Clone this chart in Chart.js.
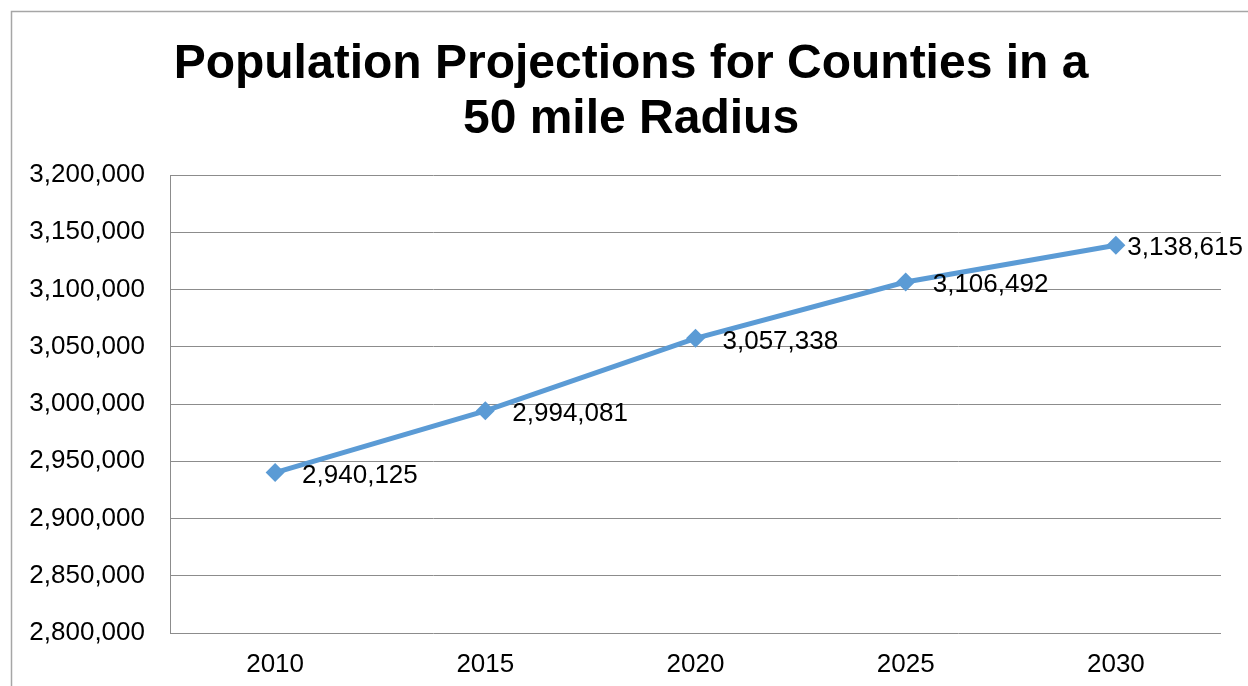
<!DOCTYPE html>
<html>
<head>
<meta charset="utf-8">
<script src="https://cdn.jsdelivr.net/npm/chart.js@4/dist/chart.umd.min.js"></script>
<style>
html,body{margin:0;padding:0;background:#fff;}
#wrap{width:1248px;height:686px;position:relative;}
</style>
</head>
<body>
<div id="wrap"><canvas id="c" width="1248" height="686"></canvas></div>
<script>
const titleLines = ["Population Projections for Counties in a", "50 mile Radius"];
const categories = ["2010", "2015", "2020", "2025", "2030"];
const population = [2940125, 2994081, 3057338, 3106492, 3138615];
const yMin = 2800000;
const yMax = 3200000;
const yStep = 50000;

const fmt = v => Number(v).toLocaleString('en-US');
const FONT = "'Liberation Sans', Arial, sans-serif";

const framePlugin = {
  id: 'frame',
  beforeDraw(chart) {
    const ctx = chart.ctx;
    ctx.save();
    ctx.fillStyle = '#ffffff';
    ctx.fillRect(0, 0, chart.width, chart.height);
    ctx.strokeStyle = '#a6a6a6';
    ctx.lineWidth = 1.5;
    ctx.beginPath();
    ctx.moveTo(11.5, chart.height + 2);
    ctx.lineTo(11.5, 11.5);
    ctx.lineTo(chart.width + 2, 11.5);
    ctx.stroke();
    ctx.restore();
  }
};

const labelPlugin = {
  id: 'valueLabels',
  afterDatasetsDraw(chart) {
    const ctx = chart.ctx;
    const meta = chart.getDatasetMeta(0);
    ctx.save();
    ctx.font = '26px ' + FONT;
    ctx.fillStyle = '#000000';
    ctx.textAlign = 'left';
    ctx.textBaseline = 'middle';
    meta.data.forEach((pt, i) => {
      const txt = fmt(chart.data.datasets[0].data[i]);
      const w = ctx.measureText(txt).width;
      let x = pt.x + 27;
      if (x + w > chart.width - 5) x = chart.width - 5 - w;
      ctx.fillText(txt, x, pt.y + 3);
    });
    ctx.restore();
  }
};

new Chart(document.getElementById('c'), {
  type: 'line',
  data: {
    labels: categories,
    datasets: [{
      data: population,
      borderColor: '#5b9bd5',
      backgroundColor: '#5b9bd5',
      borderWidth: 5,
      pointStyle: 'rectRot',
      pointRadius: 9.5,
      pointBorderWidth: 0,
      pointBackgroundColor: '#5b9bd5',
      tension: 0,
      clip: false
    }]
  },
  options: {
    responsive: false,
    animation: false,
    devicePixelRatio: 1,
    layout: { padding: { left: 14, right: 0, top: 0, bottom: 0 } },
    plugins: {
      legend: { display: false },
      tooltip: { enabled: false },
      title: {
        display: true,
        text: titleLines,
        color: '#000000',
        font: { family: FONT, size: 48, weight: 'bold', lineHeight: 1.15 },
        padding: { top: 37, bottom: 27.6 }
      }
    },
    scales: {
      x: {
        type: 'category',
        offset: true,
        grid: { display: false, drawTicks: false },
        border: { display: false },
        ticks: { color: '#000000', font: { family: FONT, size: 26 }, padding: 16, maxRotation: 0 },
        afterFit(s) { s.height = 53; }
      },
      y: {
        type: 'linear',
        position: 'left',
        min: yMin,
        max: yMax,
        grid: { color: '#8c8c8c', lineWidth: 1, drawTicks: false },
        border: { display: true, color: '#8c8c8c', width: 1 },
        ticks: {
          stepSize: yStep,
          color: '#000000',
          font: { family: FONT, size: 26 },
          padding: 25,
          callback: v => fmt(v)
        },
        afterFit(s) { s.width = 156; }
      },
      y2: {
        type: 'linear',
        position: 'right',
        display: true,
        grid: { display: false, drawTicks: false },
        border: { display: false },
        ticks: { display: false },
        afterFit(s) { s.width = 27; }
      }
    }
  },
  plugins: [framePlugin, labelPlugin]
});
</script>
</body>
</html>
